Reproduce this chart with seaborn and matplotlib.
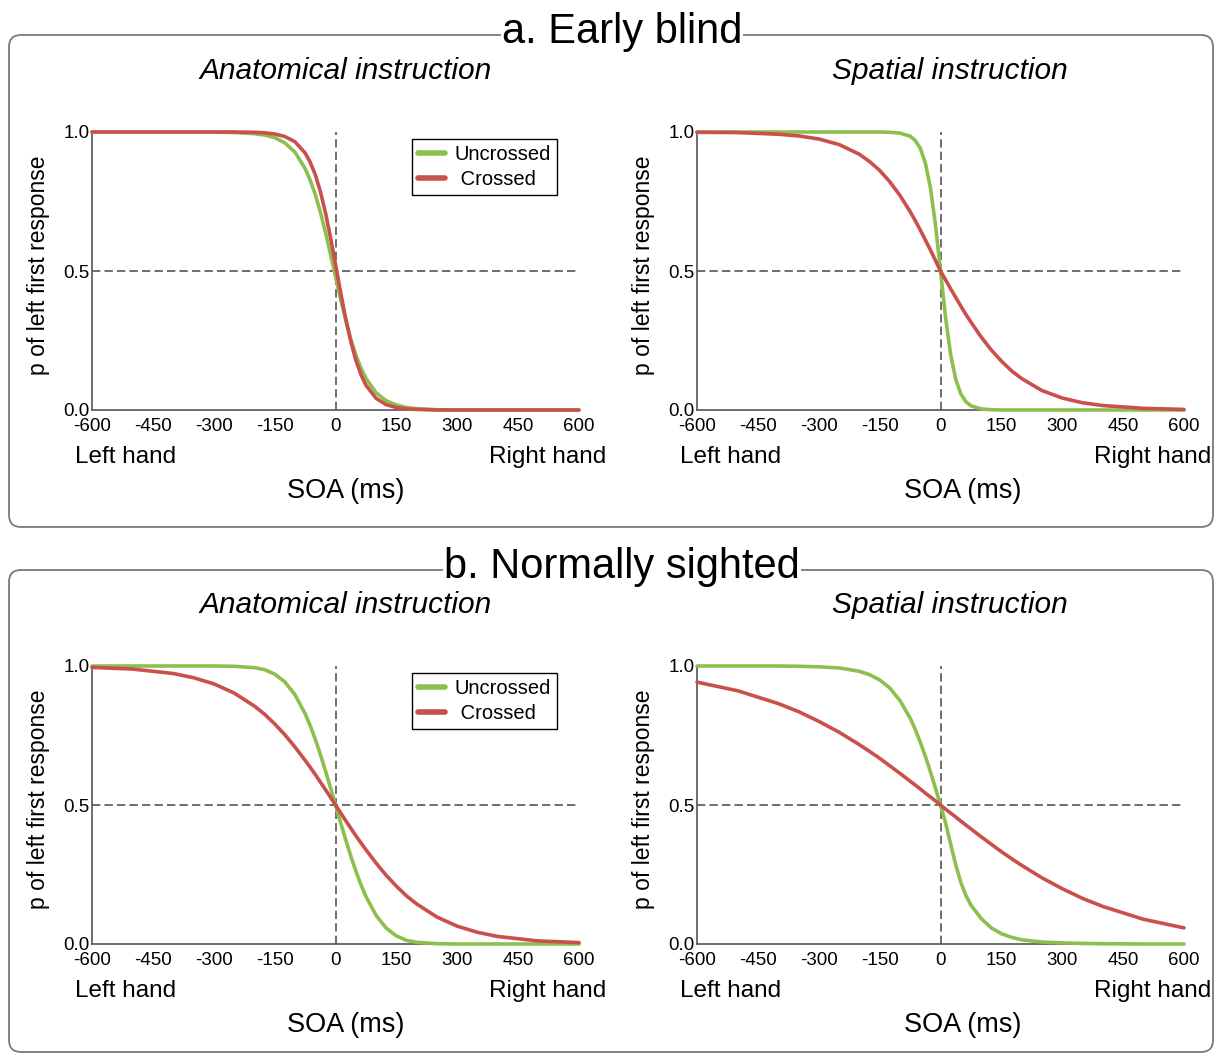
import pandas as pd
import seaborn as sns
import matplotlib.pyplot as plt
from matplotlib.lines import Line2D
from matplotlib.patches import FancyBboxPatch
from matplotlib.ticker import MultipleLocator

# SOA grid (ms) and response probabilities
soa = [-600, -500, -400, -350, -300, -250, -200, -175, -150, -125, -100, -75, -62.5, -50, -37.5, -25, -12.5,
       0, 12.5, 25, 37.5, 50, 62.5, 75, 100, 125, 150, 175, 200, 250, 300, 350, 400, 500, 600]

eb_anat_uncrossed = [1.0, 1.0, 1.0, 1.0, 1.0, 0.998, 0.994, 0.989, 0.980, 0.961, 0.928, 0.869, 0.827, 0.776, 0.713, 0.641, 0.562,
                     0.480, 0.399, 0.324, 0.256, 0.199, 0.151, 0.114, 0.062, 0.033, 0.018, 0.009, 0.005,
                     0.001, 0.0, 0.0, 0.0, 0.0, 0.0]
eb_anat_crossed = [1.0, 1.0, 1.0, 1.0, 1.0, 1.0, 0.999, 0.997, 0.993, 0.984, 0.965, 0.925, 0.892, 0.847, 0.787, 0.712, 0.622,
                   0.524, 0.424, 0.330, 0.247, 0.180, 0.128, 0.089, 0.042, 0.019, 0.009, 0.004, 0.002,
                   0.0, 0.0, 0.0, 0.0, 0.0, 0.0]

eb_spat_uncrossed = [1.0, 1.0, 1.0, 1.0, 1.0, 1.0, 1.0, 1.0, 1.0, 0.999, 0.996, 0.985, 0.970, 0.942, 0.889, 0.801, 0.667,
                     0.5, 0.333, 0.199, 0.111, 0.058, 0.030, 0.015, 0.004, 0.001, 0.0, 0.0, 0.0,
                     0.0, 0.0, 0.0, 0.0, 0.0, 0.0]
eb_spat_crossed = [0.999, 0.998, 0.992, 0.986, 0.975, 0.955, 0.920, 0.894, 0.862, 0.821, 0.772, 0.714, 0.682, 0.648, 0.612, 0.576, 0.538,
                   0.5, 0.468, 0.436, 0.405, 0.374, 0.344, 0.316, 0.263, 0.216, 0.176, 0.141, 0.113,
                   0.070, 0.043, 0.026, 0.016, 0.006, 0.002]

ns_anat_uncrossed = [1.0, 1.0, 1.0, 1.0, 1.0, 0.999, 0.994, 0.987, 0.971, 0.943, 0.897, 0.829, 0.786, 0.737, 0.683, 0.624, 0.563,
                     0.5, 0.437, 0.376, 0.317, 0.263, 0.214, 0.171, 0.103, 0.057, 0.029, 0.013, 0.006,
                     0.001, 0.0, 0.0, 0.0, 0.0, 0.0]
ns_anat_crossed = [0.995, 0.989, 0.973, 0.958, 0.936, 0.903, 0.856, 0.827, 0.792, 0.753, 0.709, 0.661, 0.636, 0.610, 0.583, 0.556, 0.528,
                   0.5, 0.472, 0.444, 0.417, 0.390, 0.364, 0.339, 0.291, 0.247, 0.208, 0.173, 0.144,
                   0.097, 0.064, 0.042, 0.027, 0.011, 0.005]

ns_spat_uncrossed = [1.0, 1.0, 1.0, 0.999, 0.997, 0.993, 0.981, 0.969, 0.950, 0.921, 0.876, 0.813, 0.773, 0.727, 0.676, 0.620, 0.561,
                     0.5, 0.435, 0.360, 0.285, 0.222, 0.175, 0.140, 0.092, 0.058, 0.037, 0.024, 0.015,
                     0.007, 0.004, 0.002, 0.001, 0.0, 0.0]
ns_spat_crossed = [0.942, 0.911, 0.865, 0.836, 0.801, 0.762, 0.717, 0.693, 0.668, 0.641, 0.614, 0.586, 0.572, 0.558, 0.543, 0.529, 0.515,
                   0.5, 0.485, 0.471, 0.457, 0.442, 0.428, 0.414, 0.386, 0.359, 0.332, 0.307, 0.283,
                   0.238, 0.199, 0.164, 0.135, 0.089, 0.058]

conditions = ["Uncrossed", "Crossed"]
colors = {"Uncrossed": "#8dbf4f", "Crossed": "#c9504b"}
groups = ["a. Early blind", "b. Normally sighted"]
instructions = ["Anatomical instruction", "Spatial instruction"]
x_ticks = [-600, -450, -300, -150, 0, 150, 300, 450, 600]
x_ticklabels = ["-600", "-450", "-300", "-150", "0", "150", "300", "450", "600"]
y_ticks = [0.0, 0.5, 1.0]
y_ticklabels = ["0.0", "0.5", "1.0"]

panels = [
    (eb_anat_uncrossed, eb_anat_crossed),
    (eb_spat_uncrossed, eb_spat_crossed),
    (ns_anat_uncrossed, ns_anat_crossed),
    (ns_spat_uncrossed, ns_spat_crossed),
]

sns.set_style("white")
plt.rcParams["font.family"] = ["Liberation Sans", "DejaVu Sans"]
plt.rcParams.update({"text.color": "black", "axes.labelcolor": "black",
                     "xtick.color": "black", "ytick.color": "black"})

W, H = 1215, 1056
fig = plt.figure(figsize=(W / 100, H / 100), dpi=100)

# background layer in pixel coordinates for the rounded group boxes
bg = fig.add_axes([0, 0, 1, 1], zorder=0)
bg.set_xlim(0, W)
bg.set_ylim(H, 0)
bg.axis("off")

box_tops = [35, 570]
box_heights = [492, 482]
for g, (top, hgt) in enumerate(zip(box_tops, box_heights)):
    bg.add_patch(FancyBboxPatch((9, top), 1204, hgt,
                                boxstyle="round,pad=0,rounding_size=12",
                                fc="none", ec="#7a7a7a", lw=1.3))
    bg.text(622, top - 3, groups[g], ha="center", va="center", fontsize=30,
            bbox=dict(fc="white", ec="none", pad=1))

# axes placement (pixels)
ax_lefts = [92, 697]
ax_tops = [132, 666]
ax_w, ax_h = 487, 278

k = 0
for r in range(2):
    for c in range(2):
        left, top = ax_lefts[c], ax_tops[r]
        ax = fig.add_axes([left / W, (H - top - ax_h) / H, ax_w / W, ax_h / H], zorder=2)
        ax.set_facecolor("none")
        unc, crs = panels[k]
        df = pd.DataFrame({
            "soa": soa * 2,
            "p": unc + crs,
            "condition": ["Uncrossed"] * len(soa) + ["Crossed"] * len(soa),
        })
        ax.axhline(0.5, color="#555555", lw=1.2, dashes=(5, 2.5), zorder=1)
        ax.axvline(0, color="#555555", lw=1.2, dashes=(5, 2.5), zorder=1)
        sns.lineplot(data=df, x="soa", y="p", hue="condition", hue_order=conditions,
                     palette=colors, estimator=None, linewidth=2.6, legend=False,
                     ax=ax, zorder=3, clip_on=False)

        ax.set_xlim(-600, 600)
        ax.set_ylim(0, 1)
        ax.set_xticks(x_ticks)
        ax.set_xticklabels(x_ticklabels)
        ax.xaxis.set_minor_locator(MultipleLocator(75))
        ax.set_yticks(y_ticks)
        ax.set_yticklabels(y_ticklabels)
        ax.tick_params(axis="x", which="both", direction="in", length=5, width=1,
                       color="#555555", labelsize=13.5, pad=6)
        ax.tick_params(axis="y", length=0, labelsize=13.5, pad=1.5)
        for side in ["top", "right"]:
            ax.spines[side].set_visible(False)
        for side in ["left", "bottom"]:
            ax.spines[side].set_color("#555555")
            ax.spines[side].set_linewidth(1.2)

        ax.set_title(instructions[c], fontsize=21.5, style="italic", x=0.52, y=1.19, va="center")
        ax.set_xlabel("SOA (ms)", fontsize=19.5)
        ax.xaxis.set_label_coords(0.52 if c == 0 else 0.546, -0.245)
        ax.set_ylabel("p of left first response", fontsize=16.5)
        ax.yaxis.set_label_coords(-0.087, 0.52)
        ax.text(-0.035, -0.169, "Left hand", transform=ax.transAxes, ha="left",
                va="center", fontsize=17.5)
        ax.text(1.055, -0.169, "Right hand", transform=ax.transAxes, ha="right",
                va="center", fontsize=17.5)

        if c == 0:
            handles = [Line2D([], [], color=colors[n], lw=4) for n in conditions]
            leg = ax.legend(handles, ["Uncrossed", " Crossed"], loc="upper right",
                            bbox_to_anchor=(0.955, 0.975), frameon=True, fancybox=False,
                            edgecolor="black", framealpha=1, fontsize=14.5,
                            handlelength=1.3, handletextpad=0.5, borderpad=0.3,
                            labelspacing=0.3, borderaxespad=0)
            leg.get_frame().set_linewidth(1.0)
        k += 1

fig.savefig("out.png", dpi=100)
